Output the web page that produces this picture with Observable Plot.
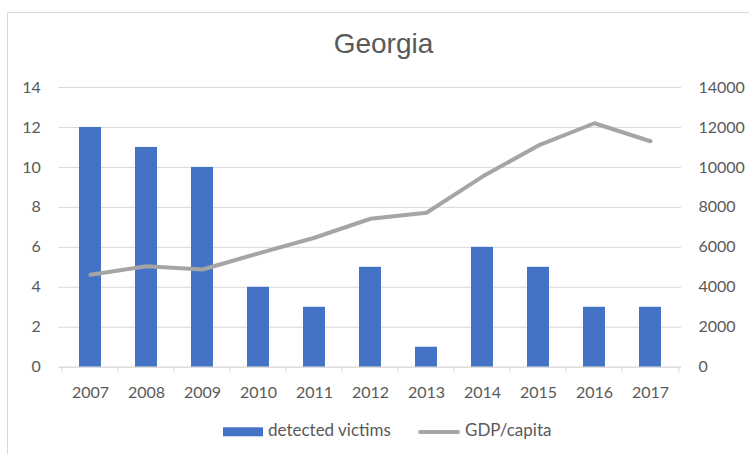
<!DOCTYPE html>
<html>
<head>
<meta charset="utf-8">
<script src="https://cdn.jsdelivr.net/npm/d3@7"></script>
<script src="https://cdn.jsdelivr.net/npm/@observablehq/plot@0.6"></script>
<style>
  html, body { margin: 0; padding: 0; background: #ffffff; }
  #wrap { position: relative; width: 749px; height: 454px; overflow: hidden; background: #fff; }
  #frame { position: absolute; left: 7px; top: 12px; width: 800px; height: 500px;
           border-top: 1px solid #d9d9d9; border-left: 1px solid #d9d9d9; box-sizing: border-box; }
  #head { position: absolute; left: 0; top: 0; }
  #chart { position: absolute; left: 0; top: 62px; }
  #legend { position: absolute; left: 0; top: 410px; }
</style>
</head>
<body>
<div id="wrap">
  <div id="frame"></div>
  <svg id="head" width="749" height="62">
    <text x="383.5" y="53" text-anchor="middle" font-family="'Liberation Sans', Arial, sans-serif" font-size="28" fill="#595959">Georgia</text>
  </svg>
  <div id="chart"></div>
  <svg id="legend" width="749" height="44"></svg>
</div>
<script>
// ---- data ----
const years = ["2007", "2008", "2009", "2010", "2011", "2012", "2013", "2014", "2015", "2016", "2017"];
const victims = [12, 11, 10, 4, 3, 5, 1, 6, 5, 3, 3];
const gdpPerCapita = [4625, 5055, 4890, 5700, 6480, 7430, 7730, 9540, 11100, 12210, 11310];
const leftTicks = [0, 2, 4, 6, 8, 10, 12, 14];
const rightTicks = [0, 2000, 4000, 6000, 8000, 10000, 12000, 14000];
const seriesNames = ["detected victims", "GDP/capita"];

const ratio = rightTicks[rightTicks.length - 1] / leftTicks[leftTicks.length - 1];
const data = years.map((year, i) => ({ year, victims: victims[i], gdp: gdpPerCapita[i] }));

const W = 749, H = 350, ML = 58.3, MR = 68, MT = 25, MB = 45.3;
const step = (W - ML - MR) / years.length;

const chart = Plot.plot({
  width: W,
  height: H,
  marginTop: MT,
  marginBottom: MB,
  marginLeft: ML,
  marginRight: MR,
  x: { type: "band", domain: years, paddingInner: 0.61, paddingOuter: 0.305, label: null },
  y: { domain: [0, 14], label: null },
  style: { fontFamily: "Lato, sans-serif", fontSize: "16px", color: "#595959", background: "transparent", overflow: "visible" },
  marks: [
    Plot.gridY(leftTicks, { stroke: "#d9d9d9", strokeOpacity: 1, strokeWidth: 1 }),
    Plot.barY(data, { x: "year", y: "victims", fill: "#4472C4" }),
    Plot.ruleY([0], { stroke: "#d9d9d9", strokeWidth: 1 }),
    Plot.lineY(data, { x: "year", y: d => d.gdp / ratio, stroke: "#A5A5A5", strokeWidth: 4, strokeLinejoin: "round", strokeLinecap: "round" }),
    Plot.axisY(leftTicks, { anchor: "left", tickSize: 0, tickPadding: 18, fill: "#595959", label: null }),
    Plot.axisY(rightTicks.map(v => v / ratio), { anchor: "right", tickSize: 0, tickPadding: 17, fill: "#595959", label: null, tickFormat: d => String(Math.round(d * ratio)) }),
    Plot.axisX({ tickSize: 0, tickPadding: 19, fill: "#595959", label: null }),
    Plot.axisX({ tickSize: 6, tickFormat: () => "", dx: -step / 2, stroke: "#d9d9d9", label: null }),
    Plot.axisX([years[years.length - 1]], { tickSize: 6, tickFormat: () => "", dx: step / 2, stroke: "#d9d9d9", label: null })
  ]
});
document.getElementById("chart").appendChild(chart);

// ---- legend ----
const leg = d3.select("#legend");
leg.append("rect").attr("x", 223).attr("y", 17.3).attr("width", 40).attr("height", 9).attr("fill", "#4472C4");
leg.append("text").attr("x", 268).attr("y", 26).attr("font-family", "Lato, sans-serif").attr("font-size", 17).attr("fill", "#595959").text(seriesNames[0]);
leg.append("line").attr("x1", 420).attr("x2", 458).attr("y1", 22).attr("y2", 22).attr("stroke", "#A5A5A5").attr("stroke-width", 4).attr("stroke-linecap", "round");
leg.append("text").attr("x", 465).attr("y", 26).attr("font-family", "Lato, sans-serif").attr("font-size", 17).attr("fill", "#595959").text(seriesNames[1]);
</script>
</body>
</html>
